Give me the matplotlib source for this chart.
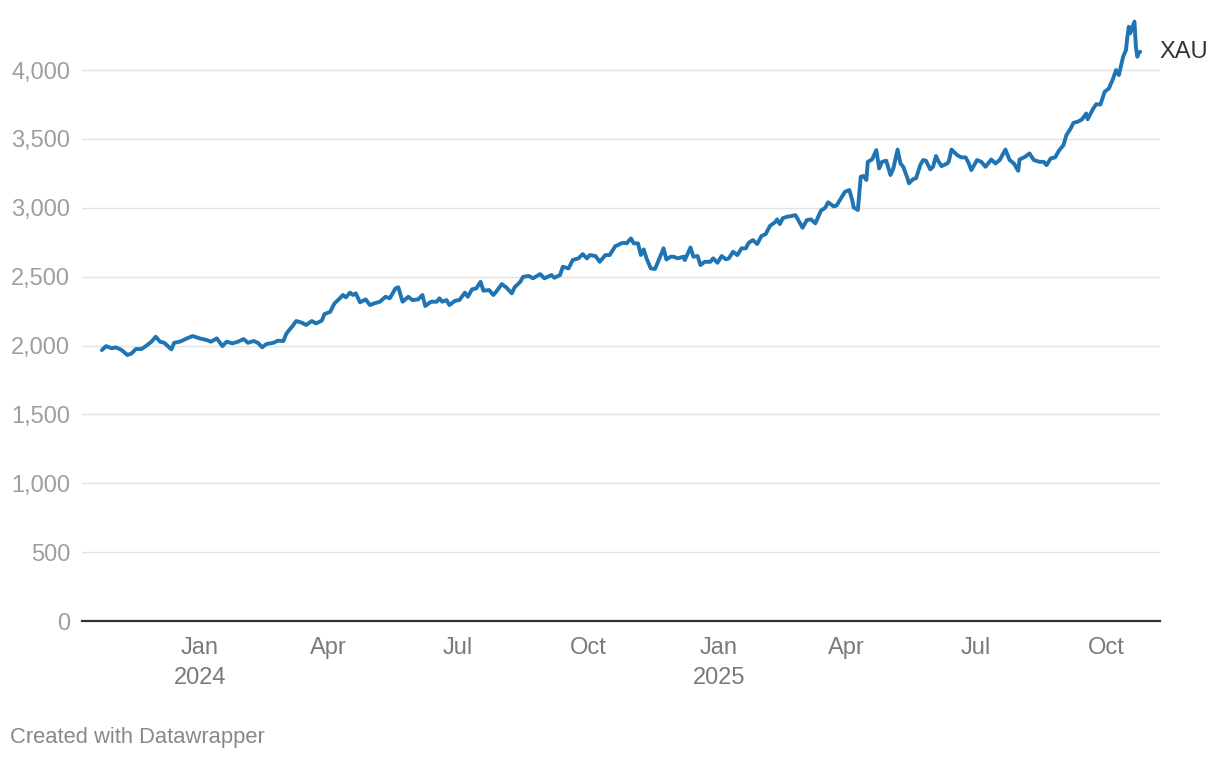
import matplotlib
matplotlib.use("Agg")
import matplotlib.pyplot as plt
import matplotlib.dates as mdates
from matplotlib.ticker import FuncFormatter
import pandas as pd

plt.rcParams['font.family'] = ['Liberation Sans', 'DejaVu Sans']

# ---- data ----
dates = [
    "2023-10-24", "2023-10-27", "2023-10-31", "2023-11-03", "2023-11-07", "2023-11-11", "2023-11-14",
    "2023-11-17", "2023-11-21", "2023-11-24", "2023-11-28", "2023-12-01", "2023-12-04", "2023-12-07",
    "2023-12-12", "2023-12-14", "2023-12-18", "2023-12-23", "2023-12-27",
    "2024-01-01", "2024-01-06", "2024-01-09", "2024-01-13", "2024-01-17", "2024-01-20", "2024-01-24",
    "2024-01-28", "2024-02-01", "2024-02-04", "2024-02-08", "2024-02-11", "2024-02-14", "2024-02-17",
    "2024-02-22", "2024-02-25", "2024-02-29", "2024-03-02", "2024-03-04", "2024-03-06", "2024-03-09",
    "2024-03-13", "2024-03-16", "2024-03-20", "2024-03-23", "2024-03-27", "2024-03-29", "2024-04-02",
    "2024-04-05", "2024-04-08", "2024-04-11", "2024-04-13", "2024-04-16", "2024-04-18", "2024-04-20",
    "2024-04-23", "2024-04-27", "2024-04-30", "2024-05-03", "2024-05-07", "2024-05-11", "2024-05-14",
    "2024-05-18", "2024-05-20", "2024-05-23", "2024-05-27", "2024-05-30", "2024-06-03", "2024-06-06",
    "2024-06-08", "2024-06-12", "2024-06-16", "2024-06-18", "2024-06-20", "2024-06-23", "2024-06-25",
    "2024-06-29", "2024-07-02", "2024-07-06", "2024-07-08", "2024-07-11", "2024-07-14", "2024-07-17",
    "2024-07-19", "2024-07-23", "2024-07-26", "2024-07-28", "2024-08-01", "2024-08-04", "2024-08-08",
    "2024-08-10", "2024-08-14", "2024-08-16", "2024-08-20", "2024-08-23", "2024-08-28", "2024-08-31",
    "2024-09-05", "2024-09-07", "2024-09-11", "2024-09-13", "2024-09-17", "2024-09-20", "2024-09-24",
    "2024-09-27", "2024-09-30", "2024-10-02", "2024-10-06", "2024-10-09", "2024-10-13", "2024-10-16",
    "2024-10-20", "2024-10-22", "2024-10-24", "2024-10-26", "2024-10-28", "2024-10-31", "2024-11-02",
    "2024-11-05", "2024-11-07", "2024-11-09", "2024-11-11", "2024-11-14", "2024-11-17", "2024-11-20",
    "2024-11-23", "2024-11-25", "2024-11-28", "2024-11-30", "2024-12-03", "2024-12-07", "2024-12-08",
    "2024-12-12", "2024-12-14", "2024-12-17", "2024-12-19", "2024-12-22", "2024-12-26", "2024-12-28",
    "2024-12-31",
    "2025-01-03", "2025-01-06", "2025-01-08", "2025-01-11", "2025-01-14", "2025-01-17", "2025-01-20",
    "2025-01-22", "2025-01-25", "2025-01-28", "2025-01-31", "2025-02-03", "2025-02-06", "2025-02-10",
    "2025-02-11", "2025-02-13", "2025-02-15", "2025-02-18", "2025-02-21", "2025-02-24", "2025-02-26",
    "2025-03-01", "2025-03-04", "2025-03-07", "2025-03-10", "2025-03-14", "2025-03-17", "2025-03-19",
    "2025-03-23", "2025-03-25", "2025-03-29", "2025-03-31", "2025-04-03", "2025-04-05", "2025-04-06",
    "2025-04-09", "2025-04-11", "2025-04-13", "2025-04-15", "2025-04-16", "2025-04-19", "2025-04-22",
    "2025-04-24", "2025-04-26", "2025-04-29", "2025-05-02", "2025-05-04", "2025-05-07", "2025-05-09",
    "2025-05-11", "2025-05-14", "2025-05-15", "2025-05-18", "2025-05-20", "2025-05-23", "2025-05-25",
    "2025-05-27", "2025-05-30", "2025-06-01", "2025-06-03", "2025-06-05", "2025-06-07", "2025-06-11",
    "2025-06-12", "2025-06-14", "2025-06-18", "2025-06-21", "2025-06-24", "2025-06-26", "2025-06-28",
    "2025-07-02", "2025-07-05", "2025-07-08", "2025-07-12", "2025-07-15", "2025-07-18", "2025-07-22",
    "2025-07-25", "2025-07-28", "2025-07-31", "2025-08-01", "2025-08-05", "2025-08-08", "2025-08-11",
    "2025-08-15", "2025-08-18", "2025-08-20", "2025-08-23", "2025-08-26", "2025-08-29", "2025-09-01",
    "2025-09-03", "2025-09-06", "2025-09-08", "2025-09-11", "2025-09-14", "2025-09-17", "2025-09-18",
    "2025-09-22", "2025-09-24", "2025-09-27", "2025-09-30", "2025-10-03", "2025-10-06", "2025-10-08",
    "2025-10-10", "2025-10-13", "2025-10-15", "2025-10-16", "2025-10-17", "2025-10-18", "2025-10-21",
    "2025-10-22", "2025-10-23", "2025-10-24", "2025-10-25",
]

prices = [
    1967, 1996, 1980, 1987, 1967, 1931, 1943,
    1975, 1975, 1996, 2028, 2064, 2028, 2020,
    1972, 2020, 2028, 2052, 2069,
    2052, 2040, 2028, 2052, 1996, 2028, 2016,
    2028, 2047, 2020, 2033, 2020, 1987, 2011,
    2020, 2035, 2033, 2085, 2112, 2136, 2178,
    2166, 2149, 2178, 2161, 2180, 2229, 2245,
    2306, 2335, 2367, 2350, 2384, 2367, 2379,
    2314, 2335, 2294, 2306, 2318, 2354, 2343,
    2415, 2423, 2318, 2354, 2330, 2335, 2367,
    2287, 2318, 2318, 2343, 2318, 2330, 2294,
    2325, 2330, 2384, 2354, 2408, 2415, 2463,
    2398, 2403, 2367, 2391, 2446, 2423, 2379,
    2423, 2463, 2499, 2505, 2488, 2519, 2488,
    2512, 2492, 2512, 2572, 2560, 2621, 2633,
    2664, 2633, 2657, 2650, 2608, 2657, 2657,
    2722, 2730, 2742, 2746, 2742, 2778, 2742,
    2742, 2657, 2698, 2633, 2560, 2556, 2630,
    2706, 2625, 2645, 2645, 2633, 2645, 2621,
    2712, 2645, 2650, 2584, 2608, 2608, 2633,
    2601,
    2650, 2626, 2633, 2681, 2657, 2706, 2706,
    2746, 2766, 2737, 2795, 2809, 2868, 2899,
    2916, 2882, 2924, 2935, 2940, 2947, 2911,
    2855, 2911, 2916, 2887, 2980, 3000, 3040,
    3010, 3017, 3085, 3117, 3129, 3056, 3003,
    2984, 3226, 3231, 3202, 3334, 3351, 3419,
    3286, 3334, 3342, 3238, 3286, 3423, 3322,
    3298, 3214, 3178, 3209, 3214, 3311, 3347,
    3342, 3279, 3298, 3376, 3334, 3303, 3322,
    3334, 3423, 3383, 3366, 3366, 3327, 3274,
    3347, 3334, 3298, 3351, 3322, 3347, 3423,
    3347, 3322, 3269, 3351, 3371, 3395, 3347,
    3334, 3334, 3310, 3359, 3366, 3419, 3456,
    3528, 3576, 3617, 3625, 3642, 3685, 3643,
    3722, 3752, 3750, 3843, 3867, 3940, 4000,
    3964, 4097, 4145, 4242, 4315, 4267, 4352,
    4170, 4097, 4125, 4133,
]

series_label = "XAU"
y_ticks = [0, 500, 1000, 1500, 2000, 2500, 3000, 3500, 4000]
x_tick_dates = ["2024-01-01", "2024-04-01", "2024-07-01", "2024-10-01",
                "2025-01-01", "2025-04-01", "2025-07-01", "2025-10-01"]
x_tick_labels = ["Jan\n2024", "Apr", "Jul", "Oct", "Jan\n2025", "Apr", "Jul", "Oct"]
footer = "Created with Datawrapper"

# ---- figure ----
W, H = 1220, 760
fig = plt.figure(figsize=(W / 100, H / 100), dpi=100)
ax = fig.add_axes([82 / W, (H - 621) / H, 1078 / W, 606 / H])

x = pd.to_datetime(dates)
ax.plot(x, prices, color="#1f74b4", lw=2.8, solid_joinstyle="round",
        solid_capstyle="round", zorder=3)

ax.set_ylim(0, 4400)
ax.set_xlim(pd.Timestamp("2023-10-10"), pd.Timestamp("2025-11-08"))

ax.set_yticks(y_ticks)
ax.yaxis.set_major_formatter(FuncFormatter(lambda v, p: f"{int(v):,}"))
ax.set_xticks(pd.to_datetime(x_tick_dates))
ax.set_xticklabels(x_tick_labels, linespacing=1.45)

for s in ["top", "right", "left"]:
    ax.spines[s].set_visible(False)
ax.spines["bottom"].set_color("#333333")
ax.spines["bottom"].set_linewidth(1.6)
ax.spines["bottom"].set_zorder(4)

ax.grid(axis="y", color="#e3e3e3", lw=1.0, zorder=0)
ax.set_axisbelow(True)

ax.tick_params(axis="y", length=0, pad=8.5, labelsize=17, labelcolor="#9e9e9e")
ax.tick_params(axis="x", length=0, pad=11.5, labelsize=17, labelcolor="#7a7a7a")

ax.annotate(series_label, xy=(x[-1], prices[-1]), xytext=(14, 0),
            textcoords="offset points", va="center", ha="left",
            fontsize=17, color="#333333", annotation_clip=False)

fig.text(10 / W, 1 - 738 / H, footer, fontsize=15.8, color="#888888",
         ha="left", va="center")

fig.savefig("out.png", dpi=100)
